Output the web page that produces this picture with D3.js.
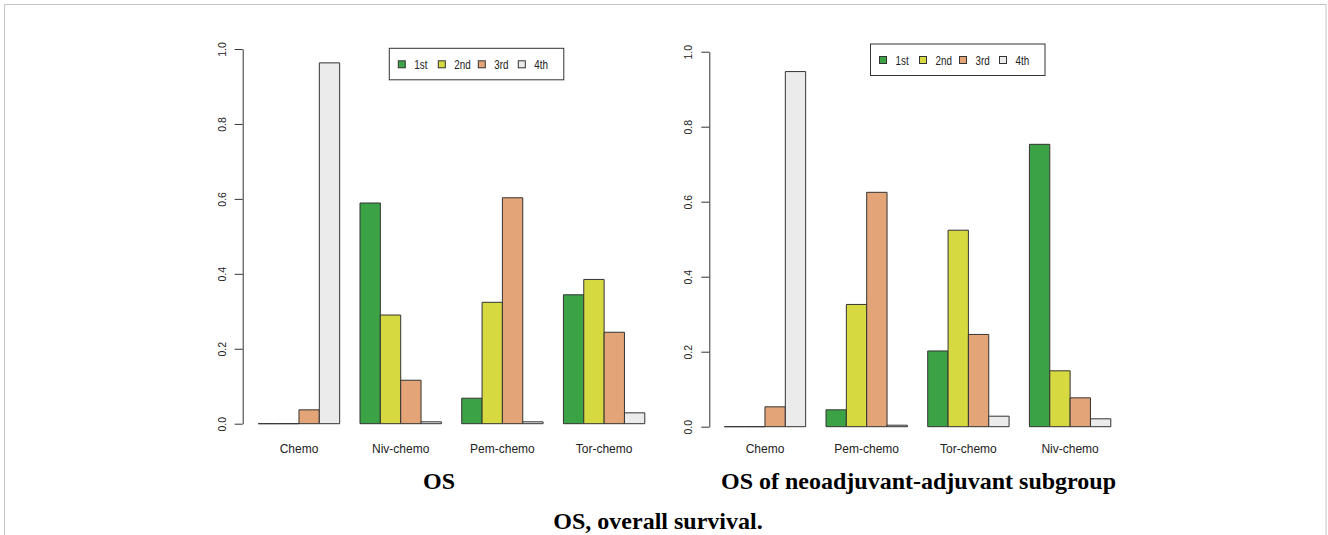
<!DOCTYPE html>
<html>
<head>
<meta charset="utf-8">
<script src="https://cdn.jsdelivr.net/npm/d3@7/dist/d3.min.js"></script>
<style>
  html, body { margin: 0; padding: 0; background: #fff; }
  svg { display: block; }
</style>
</head>
<body>
<svg id="chart" width="1328" height="535"></svg>
<script>
// ---- data ----
const series = ["1st", "2nd", "3rd", "4th"];
const seriesColors = ["#3ba346", "#d6da40", "#e3a577", "#ebebeb"];
const yTicks = [0, 0.2, 0.4, 0.6, 0.8, 1.0];

const leftTitle = "OS";
const leftCategories = ["Chemo", "Niv-chemo", "Pem-chemo", "Tor-chemo"];
const leftFirst  = [0.000, 0.589, 0.068, 0.344];
const leftSecond = [0.000, 0.290, 0.324, 0.385];
const leftThird  = [0.037, 0.116, 0.603, 0.244];
const leftFourth = [0.963, 0.005, 0.005, 0.029];

const rightTitle = "OS of neoadjuvant-adjuvant subgroup";
const rightCategories = ["Chemo", "Pem-chemo", "Tor-chemo", "Niv-chemo"];
const rightFirst  = [0.000, 0.045, 0.202, 0.753];
const rightSecond = [0.000, 0.326, 0.524, 0.149];
const rightThird  = [0.053, 0.625, 0.246, 0.077];
const rightFourth = [0.947, 0.004, 0.028, 0.021];

const caption = "OS, overall survival.";

// ---- drawing ----
const svg = d3.select("#chart");

// light frame
svg.append("rect")
  .attr("x", 4.5).attr("y", 4.5)
  .attr("width", 1321.5).attr("height", 700)
  .attr("fill", "none").attr("stroke", "#c4c4c4").attr("stroke-width", 1);

function panel(cfg) {
  const g = svg.append("g");
  const y = d3.scaleLinear().domain([0, 1]).range([cfg.y0, cfg.y1]);
  const x0 = d3.scaleBand().domain(cfg.categories)
    .range([cfg.xStart, cfg.xEnd]).paddingInner(0.2).paddingOuter(0);
  const x1 = d3.scaleBand().domain(series).range([0, x0.bandwidth()]).padding(0);

  const rows = cfg.categories.map((c, i) => ({
    cat: c,
    vals: series.map((s, j) => ({ s, j, v: cfg.values[j][i] }))
  }));

  const grp = g.selectAll("g.grp").data(rows).enter().append("g")
    .attr("transform", d => `translate(${x0(d.cat)},0)`);
  grp.selectAll("path").data(d => d.vals).enter().append("path")
    .attr("d", d => {
      const p = d3.path();
      const xa = x1(d.s), xb = xa + x1.bandwidth();
      p.moveTo(xa, y(0));
      p.lineTo(xb, y(0));
      p.lineTo(xb, y(d.v));
      p.lineTo(xa, y(d.v));
      p.closePath();
      return p.toString();
    })
    .attr("fill", d => seriesColors[d.j])
    .attr("stroke", "#333")
    .attr("stroke-width", 1);

  // y axis (R style)
  const axis = d3.axisLeft(y).tickValues(yTicks).tickSize(8).tickSizeOuter(0)
    .tickFormat(d3.format(".1f"));
  const ax = g.append("g").attr("transform", `translate(${cfg.axisX},0)`).call(axis);
  ax.select(".domain").attr("stroke", "#333");
  ax.selectAll(".tick line").attr("stroke", "#333");
  ax.selectAll(".tick text")
    .attr("x", null).attr("dy", null)
    .attr("transform", "translate(-17,0) rotate(-90)")
    .attr("text-anchor", "middle")
    .attr("font-family", "Liberation Sans, Arial, sans-serif")
    .attr("font-size", 10.5)
    .attr("fill", "#222");

  // category labels
  g.selectAll("text.cat").data(cfg.categories).enter().append("text")
    .attr("x", d => x0(d) + x0.bandwidth() / 2)
    .attr("y", 453)
    .attr("text-anchor", "middle")
    .attr("font-family", "Liberation Sans, Arial, sans-serif")
    .attr("font-size", 12)
    .attr("fill", "#222")
    .text(d => d);

  // legend
  const lg = g.append("g").attr("transform", `translate(${cfg.legX},${cfg.legY})`);
  lg.append("rect").attr("x", 0).attr("y", 0).attr("width", 174.5).attr("height", 31.5)
    .attr("fill", "#fff").attr("stroke", "#333").attr("stroke-width", 1);
  const items = lg.selectAll("g.item").data(series).enter().append("g")
    .attr("transform", (d, i) => `translate(${9 + i * 40},0)`);
  items.append("rect").attr("x", 0).attr("y", 12.5).attr("width", 7).attr("height", 7)
    .attr("fill", (d, i) => seriesColors[i]).attr("stroke", "#333").attr("stroke-width", 1);
  items.append("text")
    .attr("transform", "translate(16,20.5) scale(0.82,1)")
    .attr("font-family", "Liberation Sans, Arial, sans-serif")
    .attr("font-size", 12)
    .attr("fill", "#222")
    .text(d => d);

  // title
  svg.append("text")
    .attr("x", cfg.titleX).attr("y", 489)
    .attr("text-anchor", "middle")
    .attr("font-family", "Liberation Serif, Times New Roman, serif")
    .attr("font-weight", "bold")
    .attr("font-size", 24)
    .attr("fill", "#000")
    .text(cfg.title);
}

panel({
  title: leftTitle, categories: leftCategories,
  values: [leftFirst, leftSecond, leftThird, leftFourth],
  axisX: 242.7, y0: 423.7, y1: 49, xStart: 258.3, xEnd: 644.8,
  legX: 389.3, legY: 48.3, titleX: 439
});

panel({
  title: rightTitle, categories: rightCategories,
  values: [rightFirst, rightSecond, rightThird, rightFourth],
  axisX: 709.3, y0: 426.7, y1: 51.7, xStart: 724.3, xEnd: 1110.8,
  legX: 870.5, legY: 44, titleX: 918.5
});

svg.append("text")
  .attr("x", 658).attr("y", 529)
  .attr("text-anchor", "middle")
  .attr("font-family", "Liberation Serif, Times New Roman, serif")
  .attr("font-weight", "bold")
  .attr("font-size", 24)
  .attr("fill", "#000")
  .text(caption);
</script>
</body>
</html>
